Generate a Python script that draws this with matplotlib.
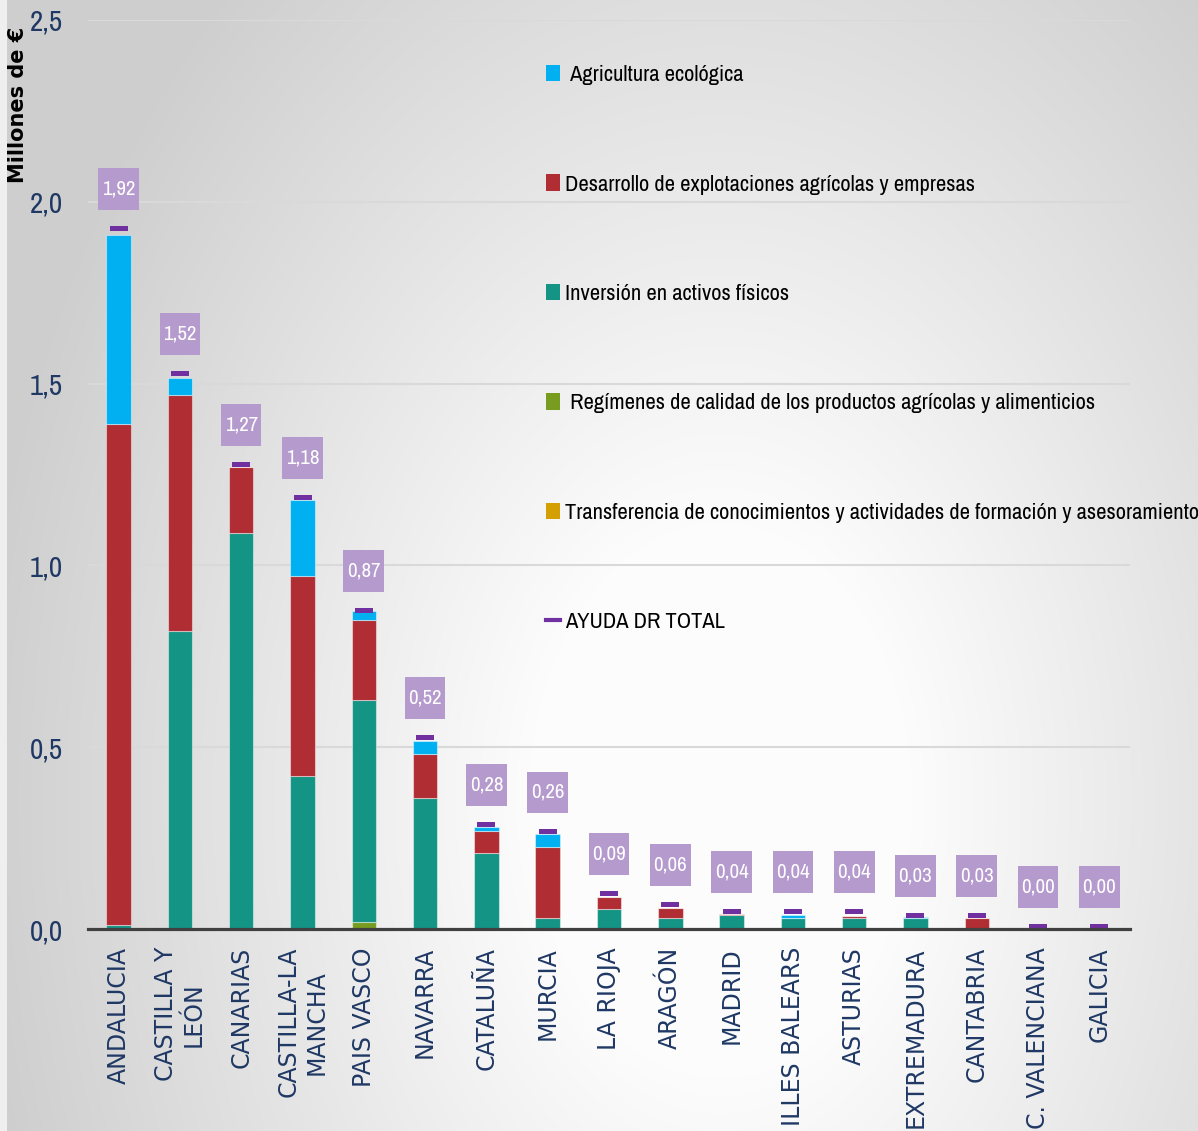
import numpy as np
import matplotlib.pyplot as plt
from matplotlib import font_manager
from matplotlib.font_manager import FontProperties
from matplotlib.patches import Patch
from matplotlib.lines import Line2D
from matplotlib.path import Path

# datos (millones de €)
regiones = ["ANDALUCIA", "CASTILLA Y\nLEÓN", "CANARIAS", "CASTILLA-LA\nMANCHA", "PAIS VASCO",
            "NAVARRA", "CATALUÑA", "MURCIA", "LA RIOJA", "ARAGÓN", "MADRID", "ILLES BALEARS",
            "ASTURIAS", "EXTREMADURA", "CANTABRIA", "C. VALENCIANA", "GALICIA"]
transferencia = [0, 0, 0, 0, 0, 0, 0, 0, 0, 0, 0, 0, 0, 0, 0, 0, 0]
regimenes = [0, 0, 0, 0, 0.02, 0, 0, 0, 0, 0, 0, 0, 0, 0, 0, 0, 0]
inversion = [0.01, 0.82, 1.09, 0.42, 0.61, 0.36, 0.21, 0.03, 0.055, 0.03, 0.038, 0.03, 0.03, 0.03, 0, 0, 0]
desarrollo = [1.38, 0.65, 0.18, 0.55, 0.22, 0.12, 0.06, 0.195, 0.033, 0.028, 0.004, 0, 0.006, 0, 0.03, 0, 0]
ecologica = [0.52, 0.045, 0, 0.21, 0.024, 0.036, 0.01, 0.035, 0, 0, 0, 0.008, 0, 0.004, 0, 0, 0]
total = [1.92, 1.52, 1.27, 1.18, 0.87, 0.52, 0.28, 0.26, 0.09, 0.06, 0.04, 0.04, 0.04, 0.03, 0.03, 0.00, 0.00]

series = [
    (transferencia, "#d49f00", "Transferencia de conocimientos y actividades de formación y asesoramiento"),
    (regimenes, "#779c1f", " Regímenes de calidad de los productos agrícolas y alimenticios"),
    (inversion, "#139484", "Inversión en activos físicos"),
    (desarrollo, "#b12d34", "Desarrollo de explotaciones agrícolas y empresas"),
    (ecologica, "#00b0f0", " Agricultura ecológica"),
]

navy = "#1f3864"
morado = "#7030a0"

# buscar una fuente estrecha (tipo Calibri comprimida)
estrecha = None
for clave in ["Narrow", "Condensed"]:
    for f in font_manager.fontManager.ttflist:
        if clave in f.name or clave.lower() in str(f.stretch):
            if f.style == "normal" and f.weight in (400, "normal", "regular", "book"):
                estrecha = f.fname
                break
    if estrecha:
        break
if estrecha is None:
    for f in font_manager.fontManager.ttflist:
        if "Condensed" in f.fname and "Bold" not in f.fname and "Oblique" not in f.fname:
            estrecha = f.fname
            break
esc = 1.0 if estrecha else 0.78


def fp(size):
    if estrecha:
        return FontProperties(fname=estrecha, size=size)
    return FontProperties(family="DejaVu Sans", size=size * esc)


fig = plt.figure(figsize=(11.98, 11.31), dpi=100)

# fondo degradado
bg = fig.add_axes([0, 0, 1, 1], zorder=-10)
yy, xx = np.mgrid[0:1131, 0:1198]
r = np.sqrt(((xx - 720) / 620.0) ** 2 + ((yy - 800) / 900.0) ** 2)
g = 0.99 - 0.18 * np.clip((r - 0.3) / 0.9, 0, 1)
g[:, :7] = 0.94
bg.imshow(np.dstack([g, g, g]), aspect="auto", extent=[0, 1, 0, 1])
bg.axis("off")

ax = fig.add_axes([88 / 1198, 1 - 929 / 1131, (1130 - 88) / 1198, 909 / 1131])
ax.set_facecolor("none")

x = np.arange(len(regiones))
bottom = np.zeros(len(regiones))
handles = {}
for vals, col, lab in series:
    vals = np.array(vals)
    ax.bar(x, vals, 0.4, bottom=bottom, color=col, edgecolor=(1, 1, 1, 0.45), linewidth=0.8, zorder=3)
    handles[lab] = Patch(facecolor=col)
    bottom += vals

# marcador total (rectangulo que se apoya sobre el valor)
marca = Path([(-1, 0), (1, 0), (1, 0.6), (-1, 0.6), (-1, 0)], closed=True)
ax.plot(x, total, linestyle="none", marker=marca, markersize=13, color=morado, markeredgewidth=0, zorder=4)


def caja(x0, y0, width, height, mutation_size):
    px = 0.17 * mutation_size
    py = 0.55 * mutation_size
    x0, y0 = x0 - px, y0 - py
    x1, y1 = x0 + width + 2 * px, y0 + height + 2 * py
    return Path([(x0, y0), (x1, y0), (x1, y1), (x0, y1), (x0, y0)], closed=True)


for i, t in enumerate(total):
    ax.annotate(f"{t:.2f}".replace(".", ","), (i, t), xytext=(0, 42), textcoords="offset pixels",
                ha="center", va="center", color="white", fontproperties=fp(15),
                bbox=dict(boxstyle=caja, facecolor="#b59acd", edgecolor="none"), zorder=5)

ax.set_xlim(-0.5, len(regiones) - 0.5)
ax.set_ylim(0, 2.5)
ax.set_yticks([0, 0.5, 1.0, 1.5, 2.0, 2.5])
ax.set_yticklabels(["0,0", "0,5", "1,0", "1,5", "2,0", "2,5"], fontproperties=fp(21), color=navy)
ax.set_xticks(x)
ax.set_xticklabels(regiones, rotation=90, fontsize=17, color=navy, multialignment="center")
ax.tick_params(axis="both", length=0)
ax.tick_params(axis="y", pad=18)
ax.tick_params(axis="x", pad=13)
ax.yaxis.grid(True, color="#d9d9d9", linewidth=1.5, zorder=0)
ax.set_axisbelow(True)
for s in ["top", "right", "left"]:
    ax.spines[s].set_visible(False)
ax.spines["bottom"].set_color("#404040")
ax.spines["bottom"].set_linewidth(2.3)
ax.spines["bottom"].set_zorder(6)

fig.text(18 / 1198, 1 - 27 / 1131, "Millones de €", rotation=90, ha="center", va="top",
         fontsize=15, fontweight="bold", color="black")

orden = [series[4][2], series[3][2], series[2][2], series[1][2], series[0][2]]
h = [handles[k] for k in orden] + [Line2D([0], [0], color=morado, linewidth=3)]
labs = orden + ["AYUDA DR TOTAL"]
fig.legend(h, labs, loc="upper left", bbox_to_anchor=(546 / 1198, 1 - 65 / 1131), frameon=False,
           prop=fp(16.2), handlelength=0.6, handleheight=0.75,
           handletextpad=0.25, labelspacing=3.97, borderpad=0, borderaxespad=0)

fig.savefig("out.png", dpi=100)
